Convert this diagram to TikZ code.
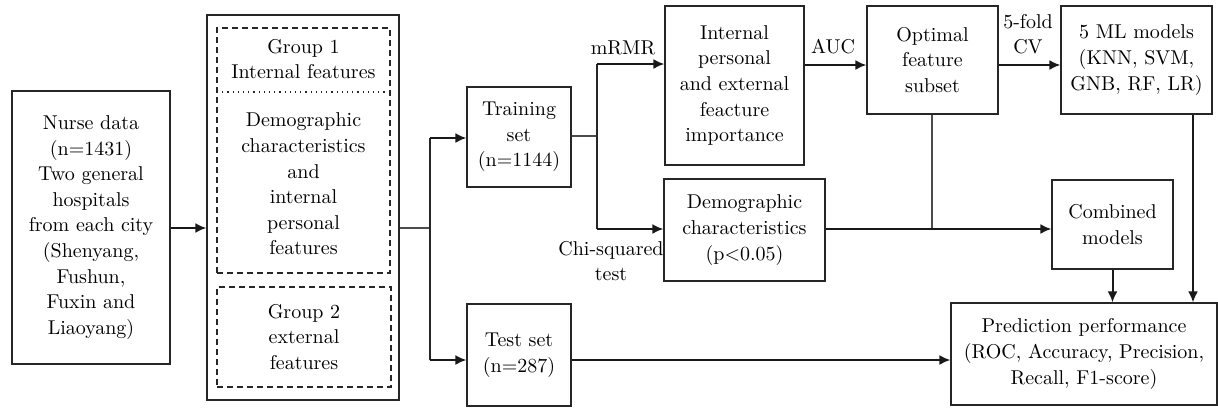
\documentclass[tikz,border=0pt]{standalone}
\usetikzlibrary{arrows.meta}
\begin{document}
\begin{tikzpicture}[x=0.5pt,y=-0.5pt,
  txt/.style={font=\fontsize{10pt}{12.8pt}\selectfont, align=center, inner sep=0pt},
  box/.style={txt, draw=black!85, line width=0.6pt, rectangle},
  dbox/.style={draw=black!85, line width=0.6pt, dash pattern=on 3pt off 2pt},
  arr/.style={draw=black!90, line width=1pt, -{Latex[length=5.5pt,width=5pt]}},
  ln/.style={draw=black!70, line width=0.6pt},
  lnb/.style={draw=black!85, line width=0.8pt}]
\useasboundingbox (0,0) rectangle (1218,408);
% boxes
\node[box, minimum width=79pt, minimum height=136.5pt] (nurse) at (91,227.5)
  {Nurse data\\(n=1431)\\Two general\\hospitals\\from each city\\(Shenyang,\\Fushun,\\Fuxin and\\Liaoyang)};
\node[box, minimum width=96pt, minimum height=192.5pt] (outer) at (303,207.5) {};
\node[dbox, minimum width=86.5pt, minimum height=122.5pt, inner sep=0pt] (g1) at (303.5,150.5) {};
\node[txt] (g1t) at (303.5,59) {Group 1\\Internal features};
\coordinate (dl) at (217,92);
\coordinate (dr) at (390,92);
\draw[draw=black!85, line width=0.6pt, dotted] (dl) -- (dr);
\node[txt] (g1b) at (303.5,184) {Demographic\\characteristics\\and\\internal\\personal\\features};
\node[dbox, minimum width=87pt, minimum height=50pt, inner sep=0pt] (g2) at (304,337) {};
\node[txt] (g2t) at (304,337) {Group 2\\external\\features};
\node[box, minimum width=52pt, minimum height=50pt] (train) at (519,137) {Training\\set\\(n=1144)};
\node[box, minimum width=52pt, minimum height=51pt] (test) at (519,355) {Test set\\(n=287)};
\node[box, minimum width=69.5pt, minimum height=79.5pt] (intern) at (734.5,85.5)
  {Internal\\personal\\and external\\feacture\\importance};
\node[box, minimum width=65.5pt, minimum height=54pt] (opt) at (932.5,60) {Optimal\\feature\\subset};
\node[box, minimum width=75.5pt, minimum height=54pt] (ml) at (1136.5,60) {5 ML models\\(KNN, SVM,\\GNB, RF, LR)};
\node[box, minimum width=80.5pt, minimum height=51pt] (demo) at (744.5,230) {Demographic\\characteristics\\(p<0.05)};
\node[box, minimum width=60.5pt, minimum height=44.5pt] (comb) at (1112.5,224.5) {Combined\\models};
\node[box, minimum width=133pt, minimum height=51pt] (pred) at (1084,354)
  {Prediction performance\\(ROC, Accuracy, Precision,\\Recall, F1-score)};
% labels
\node[txt] (lmrmr) at (623,48) {mRMR};
\node[txt] (lauc) at (833,47) {AUC};
\node[txt] (lcv) at (1028,34) {5-fold\\CV};
\node[txt] (lchi) at (611,261) {Chi-squared\\test};
% connector coordinates
\coordinate (s1) at (430,228);
\coordinate (s1t) at (430,138);
\coordinate (s1b) at (430,360);
\coordinate (s2) at (597,136);
\coordinate (s2t) at (597,64);
\coordinate (s2b) at (597,229);
\coordinate (j1) at (932,229);
% connectors
\draw[arr] (nurse.east |- 0,228) -- (outer.west |- 0,228);
\draw[ln] (outer.east |- s1) -- (s1);
\draw[lnb] (s1t) -- (s1b);
\draw[arr] (s1t) -- (train.west |- s1t);
\draw[arr] (s1b) -- (test.west |- s1b);
\draw[ln] (train.east |- s2) -- (s2);
\draw[lnb] (s2t) -- (s2b);
\draw[arr] (s2t) -- (intern.west |- s2t);
\draw[arr] (s2b) -- (demo.west |- s2b);
\draw[arr] (intern.east |- 0,65) -- (opt.west |- 0,65);
\draw[arr] (opt.east |- 0,65) -- (ml.west |- 0,65);
\draw[ln] (opt.south -| j1) -- (j1);
\draw[arr] (demo.east |- j1) -- (comb.west |- j1);
\draw[arr] (comb.south) -- (pred.north -| comb.south);
\draw[arr] (ml.south -| 1193,0) -- (pred.north -| 1193,0);
\draw[arr] (test.east |- s1b) -- (pred.west |- s1b);
\end{tikzpicture}
\end{document}
